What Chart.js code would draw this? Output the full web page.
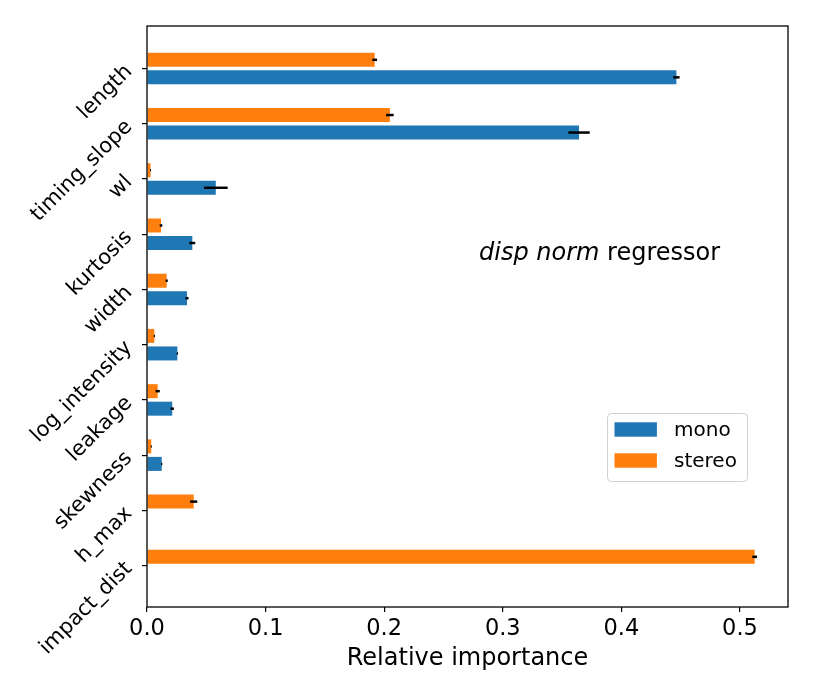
<!DOCTYPE html>
<html><head><meta charset="utf-8">
<script src="https://cdn.jsdelivr.net/npm/chart.js@4.4.1/dist/chart.umd.min.js"></script>
<style>html,body{margin:0;padding:0;background:#fff}#wrap{width:814px;height:698px;position:relative}</style>
</head><body><div id="wrap"><canvas id="c"></canvas></div>
<script>
const CATEGORIES = ['length','timing_slope','wl','kurtosis','width','log_intensity','leakage','skewness','h_max','impact_dist'];
const MONO = [0.4464,0.3643,0.058,0.0382,0.0337,0.0256,0.0213,0.0124,null,null];
const MONO_ERR = [0.0027,0.009,0.01,0.0025,0.0013,0.0005,0.0014,0.0005,null,null];
const STEREO = [0.192,0.2048,0.003,0.0118,0.0166,0.0062,0.009,0.0036,0.0394,0.5124];
const STEREO_ERR = [0.002,0.0032,0.0004,0.0011,0.0009,0.0005,0.0018,0.0004,0.003,0.002];
const X_TICKS = [0,0.1,0.2,0.3,0.4,0.5];
const X_TICK_LABELS = ['0.0','0.1','0.2','0.3','0.4','0.5'];
const SERIES_NAMES = ['mono','stereo'];

const FONT = 'DejaVu Sans';
const BLUE = '#1f77b4', ORANGE = '#ff7f0e';

function pts(vals){ return vals.map((v,i)=>({x:v,y:i})).filter(p=>p.x!==null); }

const errorBars = {
  id:'errorBars',
  afterDatasetsDraw(chart){
    const ctx = chart.ctx, xs = chart.scales.x;
    chart.data.datasets.forEach((ds,di)=>{
      const meta = chart.getDatasetMeta(di);
      meta.data.forEach((el,j)=>{
        const p = ds.data[j]; const e = ds.errs[p.y];
        if (e==null) return;
        ctx.save();
        ctx.strokeStyle='#000'; ctx.lineWidth=2.5;
        ctx.beginPath();
        ctx.moveTo(xs.getPixelForValue(p.x-e), el.y);
        ctx.lineTo(xs.getPixelForValue(p.x+e), el.y);
        ctx.stroke();
        ctx.restore();
      });
    });
  }
};

const decor = {
  id:'decor',
  afterDraw(chart){
    const ctx = chart.ctx, a = chart.chartArea;
    ctx.save();
    ctx.strokeStyle='#000'; ctx.lineWidth=1.3;
    ctx.strokeRect(a.left, a.top, a.right-a.left, a.bottom-a.top);
    // annotation
    ctx.fillStyle='#000'; ctx.textBaseline='alphabetic'; ctx.textAlign='left';
    let x = 479, y = 260;
    ctx.font = 'italic 24px "'+FONT+'"';
    const t1 = 'disp norm';
    ctx.fillText(t1, x, y);
    x += ctx.measureText(t1+' ').width;
    ctx.font = '24px "'+FONT+'"';
    ctx.fillText('regressor', x, y);
    // legend
    const lx=607, ly=413, lw=140, lh=68;
    ctx.beginPath();
    if (ctx.roundRect) ctx.roundRect(lx+0.5, ly+0.5, lw, lh, 4); else ctx.rect(lx+0.5,ly+0.5,lw,lh);
    ctx.fillStyle='rgba(255,255,255,0.8)'; ctx.fill();
    ctx.strokeStyle='#d0d0d0'; ctx.lineWidth=1; ctx.stroke();
    const rows = [429.5, 460.5];
    ctx.font = '20px "'+FONT+'"'; ctx.textBaseline='middle';
    SERIES_NAMES.forEach((name,k)=>{
      const ds = chart.data.datasets.find(d=>d.label===name);
      ctx.fillStyle = ds.backgroundColor;
      ctx.fillRect(614.5, rows[k]-7.2, 42.4, 14.4);
      ctx.fillStyle='#000';
      ctx.fillText(name, 674, rows[k]+1);
    });
    ctx.restore();
  }
};

new Chart(document.getElementById('c'), {
  type:'bar',
  data:{
    datasets:[
      {label:'stereo', data:pts(STEREO), errs:STEREO_ERR, backgroundColor:ORANGE, borderWidth:0},
      {label:'mono', data:pts(MONO), errs:MONO_ERR, backgroundColor:BLUE, borderWidth:0}
    ]
  },
  options:{
    indexAxis:'y',
    responsive:true, maintainAspectRatio:false, animation:false,
    categoryPercentage:0.634, barPercentage:0.8,
    layout:{padding:{top:26,right:26,left:0,bottom:0}},
    plugins:{legend:{display:false}, tooltip:{enabled:false}},
    scales:{
      x:{
        type:'linear', min:0, max:0.5405,
        afterBuildTicks(s){ s.ticks = X_TICKS.map(v=>({value:v})); },
        afterFit(s){ s.height = 91; },
        ticks:{ callback:(v,i)=>X_TICK_LABELS[i], color:'#000', font:{family:FONT,size:22.5}, padding:4, maxRotation:0, autoSkip:false },
        grid:{ display:true, drawOnChartArea:false, drawTicks:true, tickLength:5, color:'#000', lineWidth:1.2 },
        border:{display:false},
        title:{ display:true, text:'Relative importance', color:'#000', font:{family:FONT,size:24}, padding:{top:0,bottom:25} }
      },
      y:{
        type:'linear', reverse:true, min:-0.771, max:9.75, offset:false,
        afterBuildTicks(s){ s.ticks = CATEGORIES.map((c,i)=>({value:i})); },
        afterFit(s){ s.width = 147; },
        ticks:{ callback:(v)=>CATEGORIES[v], color:'#000', font:{family:FONT,size:21}, padding:13, minRotation:45, maxRotation:45, autoSkip:false },
        grid:{ display:true, offset:false, drawOnChartArea:false, drawTicks:true, tickLength:5, color:'#000', lineWidth:1.2 },
        border:{display:false}
      }
    }
  },
  plugins:[errorBars, decor]
});
</script></body></html>
